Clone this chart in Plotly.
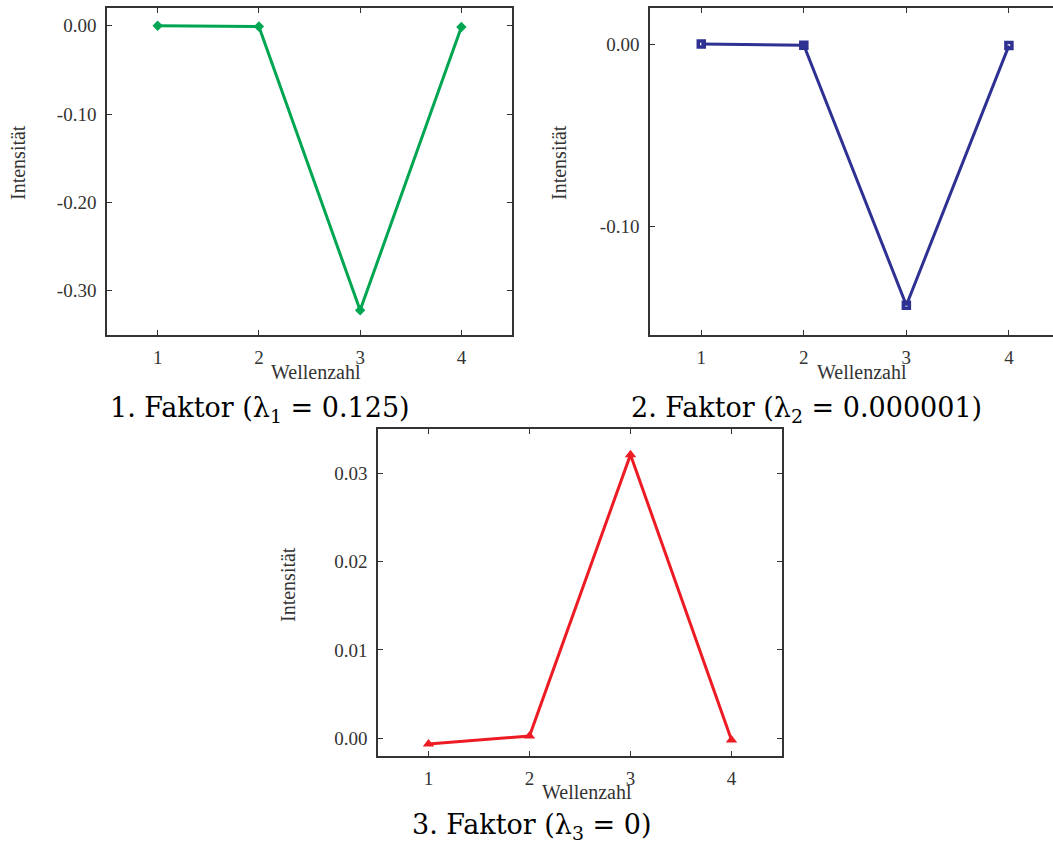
import plotly.graph_objects as go

W, H = 1053, 846

wellenzahl = [1, 2, 3, 4]
faktor1 = [0.0, -0.001, -0.322, -0.0015]
faktor2 = [0.0002, -0.0005, -0.1436, -0.0007]
faktor3 = [-0.00065, 0.00026, 0.0321, -0.0002]

captions = ["1. Faktor (λ<sub>1</sub> = 0.125)",
            "2. Faktor (λ<sub>2</sub> = 0.000001)",
            "3. Faktor (λ<sub>3</sub> = 0)"]
x_title = "Wellenzahl"
y_title = "Intensität"

colors = ["#00A651", "#2E3192", "#ED1C24"]

def px(x):
    return x / W

def py(y):
    return 1 - y / H

fig = go.Figure()

fig.add_trace(go.Scatter(x=wellenzahl, y=faktor1, mode="lines+markers",
                         line=dict(color=colors[0], width=3),
                         marker=dict(symbol="diamond", size=8, color=colors[0]),
                         xaxis="x", yaxis="y", showlegend=False))
fig.add_trace(go.Scatter(x=wellenzahl, y=faktor2, mode="lines+markers",
                         line=dict(color=colors[1], width=3),
                         marker=dict(symbol="square-open", size=6, color=colors[1],
                                     line=dict(width=3.5, color=colors[1])),
                         xaxis="x2", yaxis="y2", showlegend=False))
fig.add_trace(go.Scatter(x=wellenzahl, y=faktor3, mode="lines+markers",
                         line=dict(color=colors[2], width=3),
                         marker=dict(symbol="triangle-up", size=10, color=colors[2]),
                         xaxis="x3", yaxis="y3", showlegend=False))

serif = "'Liberation Serif', 'Times New Roman', Times, serif"
capserif = "'DejaVu Serif', serif"
tickfont = dict(family=serif, size=19, color="#333333")
axcol = "#333333"

def xaxis(domain, anchor, rng):
    return dict(domain=domain, anchor=anchor, range=rng, tickvals=wellenzahl,
                ticktext=[str(v) for v in wellenzahl],
                ticks="inside", ticklen=5, tickcolor=axcol, tickwidth=1,
                showline=True, linecolor=axcol, linewidth=1.5, mirror="ticks",
                showgrid=False, zeroline=False, tickfont=tickfont,
                ticklabelstandoff=4, fixedrange=True)

def yaxis(domain, anchor, rng, tv, tt, mirror="ticks"):
    return dict(domain=domain, anchor=anchor, range=rng, tickvals=tv, ticktext=tt,
                ticks="inside", ticklen=5, tickcolor=axcol, tickwidth=1,
                showline=True, linecolor=axcol, linewidth=1.5, mirror=mirror,
                showgrid=False, zeroline=False, tickfont=tickfont,
                ticklabelstandoff=5, fixedrange=True)

d1x = [px(107), px(512)]
d1y = [py(335), py(8)]
d2x = [px(650), 1.0]
d2y = [py(335), py(8)]
d3x = [px(378), px(782)]
d3y = [py(756), py(429)]

fig.update_layout(
    width=W, height=H, margin=dict(l=0, r=0, t=0, b=0),
    paper_bgcolor="white", plot_bgcolor="white",
    xaxis=xaxis(d1x, "y", [0.5, 4.5]),
    yaxis=yaxis(d1y, "x", [-0.35, 0.02], [0.0, -0.1, -0.2, -0.3],
                ["0.00", "-0.10", "-0.20", "-0.30"]),
    xaxis2=xaxis(d2x, "y2", [0.5, 4.43]),
    yaxis2=yaxis(d2y, "x2", [-0.16, 0.02], [0.0, -0.1], ["0.00", "-0.10"], mirror=False),
    xaxis3=xaxis(d3x, "y3", [0.5, 4.5]),
    yaxis3=yaxis(d3y, "x3", [-0.002, 0.035], [0.0, 0.01, 0.02, 0.03],
                 ["0.00", "0.01", "0.02", "0.03"]),
)

titlefont = dict(family=serif, size=20, color="#333333")
capfont = dict(family=capserif, size=27, color="black")

annos = []
for (xc, yc) in [(316, 372), (862, 372), (587, 792)]:
    annos.append(dict(text=x_title, x=px(xc), y=py(yc), xref="paper", yref="paper",
                      showarrow=False, font=titlefont, xanchor="center", yanchor="middle"))
for (xc, yc) in [(18, 163), (559, 163), (288, 585)]:
    annos.append(dict(text=y_title, x=px(xc), y=py(yc), xref="paper", yref="paper",
                      showarrow=False, font=titlefont, textangle=-90,
                      xanchor="center", yanchor="middle"))
for cap, (xc, yc) in zip(captions, [(260, 409), (806, 409), (531, 826)]):
    annos.append(dict(text=cap, x=px(xc), y=py(yc), xref="paper", yref="paper",
                      showarrow=False, font=capfont, xanchor="center", yanchor="middle"))
fig.update_layout(annotations=annos)

fig.write_html("out.html")
